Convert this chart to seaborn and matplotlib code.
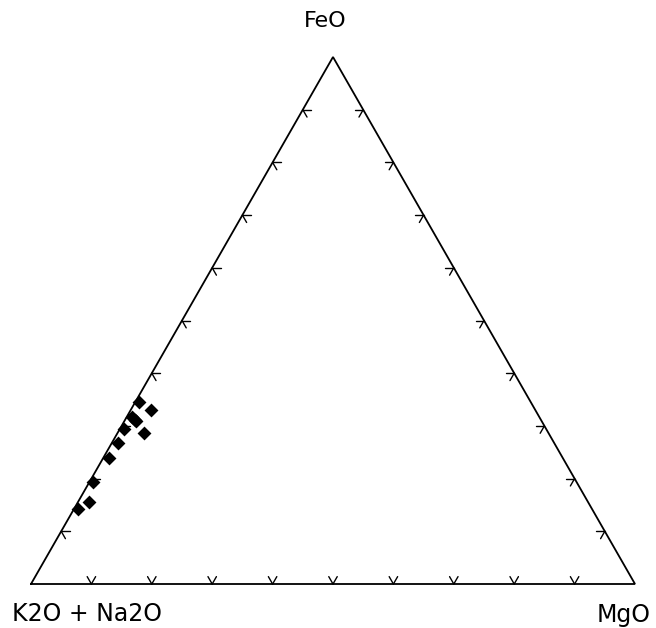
"""FeO - MgO - (K2O + Na2O) ternary diagram, drawn with seaborn + matplotlib"""

import numpy as np
import pandas as pd
import matplotlib
matplotlib.use("Agg")
import matplotlib.pyplot as plt
import seaborn as sns

# sample compositions, in percent (FeO + MgO + alkalis = 100)
feo = [34.5, 33.0, 31.6, 31.2, 30.9, 29.5, 28.7, 26.7, 23.9, 19.3, 15.6, 14.2]
mgo = [0.7, 3.4, 0.9, 1.6, 1.9, 0.7, 4.3, 1.1, 1.0, 0.6, 1.8, 0.7]
alk = [64.8, 63.6, 67.5, 67.2, 67.2, 69.8, 67.0, 72.2, 75.1, 80.1, 82.6, 85.1]

# apex labels
label_top = "FeO"
label_left = "K2O + Na2O"
label_right = "MgO"

# tick positions along every edge (fraction)
tick_values = [0.1, 0.2, 0.3, 0.4, 0.5, 0.6, 0.7, 0.8, 0.9]


def to_xy(f, m):
    """ternary (FeO, MgO fraction) -> plot coords; alkalis apex at the origin"""
    f = np.asarray(f, dtype=float)
    m = np.asarray(m, dtype=float)
    return m + f / 2.0, f


sns.set_style("white")
plt.rcParams['font.family'] = ['DejaVu Sans']
plt.rcParams['text.color'] = 'black'

fig = plt.figure(figsize=(6.56, 6.28), dpi=100)
ax = fig.add_axes([0, 0, 1, 1])
ax.set_xlim(-31 / 604, 625 / 604)
ax.set_ylim((584 - 628) / 527, 584 / 527)
ax.axis("off")

# outline of the triangle
corners_f = [0, 0, 1, 0]
corners_m = [0, 1, 0, 0]
cx, cy = to_xy(corners_f, corners_m)
ax.plot(cx, cy, color="black", lw=1.3, solid_joinstyle="miter")

# little chevron ticks: two short strokes along the other grid directions
d = 0.014
for t in tick_values:
    # bottom edge (FeO = 0, MgO = t)
    for f2, m2 in [(d, 0), (d, -d)]:
        x, y = to_xy([0, f2], [t, t + m2])
        ax.plot(x, y, color="black", lw=1)
    # left edge (MgO = 0, FeO = t)
    for f2, m2 in [(0, d), (-d, d)]:
        x, y = to_xy([t, t + f2], [0, m2])
        ax.plot(x, y, color="black", lw=1)
    # right edge (alkalis = 0, FeO = t)
    for f2, m2 in [(0, -d), (-d, 0)]:
        x, y = to_xy([t, t + f2], [1 - t, 1 - t + m2])
        ax.plot(x, y, color="black", lw=1)

# data points
total = np.array(feo) + np.array(mgo) + np.array(alk)
px, py = to_xy(np.array(feo) / total, np.array(mgo) / total)
df = pd.DataFrame({"x": px, "y": py})
sns.scatterplot(data=df, x="x", y="y", marker="D", s=50, color="black",
                edgecolor="black", linewidth=0, ax=ax, zorder=5)

# apex labels
fig.text(325 / 656, 1 - 27 / 628, label_top, ha="center", va="baseline", fontsize=16)
fig.text(12 / 656, 1 - 621 / 628, label_left, ha="left", va="baseline", fontsize=17)
fig.text(651 / 656, 1 - 622 / 628, label_right, ha="right", va="baseline", fontsize=17)

fig.savefig("out.png", dpi=100, facecolor="white")
